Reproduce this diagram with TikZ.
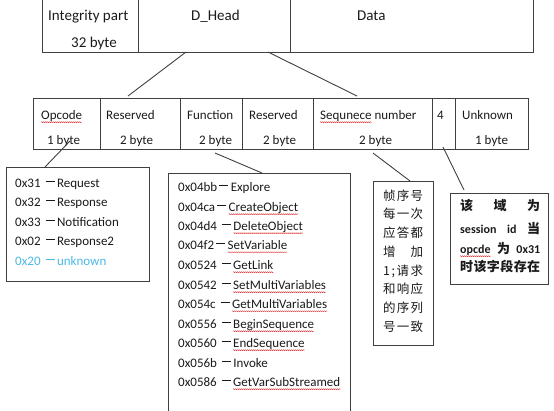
\documentclass[tikz,border=0pt]{standalone}
\usepackage{fontspec}
\setmainfont{Carlito}
\newfontfamily\cjk{Noto Sans CJK SC}
\usepackage{xcolor}
\usetikzlibrary{decorations.pathmorphing}
\definecolor{lc}{HTML}{404040}
\definecolor{txt}{HTML}{1A1A1A}
\definecolor{unk}{HTML}{4BB8E6}
\definecolor{wav}{HTML}{E03030}
\newsavebox\rwbox
\newcommand\rw[1]{\sbox\rwbox{#1}\rlap{\usebox\rwbox}\tikz[baseline=0pt]{\useasboundingbox (0pt,0pt) rectangle (\wd\rwbox,0pt);\draw[wav, line width=0.4pt, decorate, decoration={zigzag, amplitude=0.5pt, segment length=2pt}] (0pt,-3.2pt) -- (\wd\rwbox,-3.2pt);}}
\newcommand\dsh{\hspace{2pt}\raisebox{5.5pt}{\rule{9pt}{0.7pt}}\hspace{2.5pt}}
\tikzset{
  cell/.style={draw=lc, line width=0.9pt, anchor=north west, inner sep=0pt},
  frame/.style={anchor=north west, inner sep=0pt},
  lbl/.style={anchor=base west, inner sep=0pt, text=txt, font=\fontsize{13}{15}\selectfont},
  big/.style={anchor=base west, inner sep=0pt, text=txt, font=\fontsize{15}{17}\selectfont},
  zh/.style={anchor=base west, inner sep=0pt, text=txt, font=\cjk\fontsize{12.5}{14}\selectfont},
  zhb/.style={anchor=base west, inner sep=0pt, text=txt, font=\cjk\bfseries\fontsize{13}{15}\selectfont},
  conn/.style={draw=lc, line width=0.9pt},
}
\begin{document}
\begin{tikzpicture}[x=1pt,y=-1pt]
\useasboundingbox (0,0) rectangle (554,410);
\clip (0,0) rectangle (554,410);
% ---------- top row ----------
\node[frame, minimum width=96pt, minimum height=52pt] (integ) at (42,0) {};
\node[frame, minimum width=152pt, minimum height=52pt] (dhead) at (138,0) {};
\node[frame, minimum width=243pt, minimum height=52pt] (data) at (290,0) {};
\draw[lc, line width=0.9pt] (integ.north west) -- (integ.south west) -- (data.south east) -- (data.north east);
\draw[lc, line width=0.9pt] (dhead.north west) -- (dhead.south west);
\draw[lc, line width=0.9pt] (data.north west) -- (data.south west);
\node[big] (t1) at (48,20) {Integrity part};
\node[big] (t2) at (71,47) {32 byte};
\node[big] (t3) at (191,20) {D\_Head};
\node[big] (t4) at (357,20) {Data};
% ---------- second row ----------
\node[cell, minimum width=67pt, minimum height=51pt] (opc) at (33,98) {};
\node[cell, minimum width=80pt, minimum height=51pt] (res1) at (100,98) {};
\node[cell, minimum width=62pt, minimum height=51pt] (fun) at (180,98) {};
\node[cell, minimum width=71pt, minimum height=51pt] (res2) at (242,98) {};
\node[cell, minimum width=119pt, minimum height=51pt] (seq) at (313,98) {};
\node[cell, minimum width=23pt, minimum height=51pt] (four) at (432,98) {};
\node[cell, minimum width=73pt, minimum height=51pt] (unkc) at (455,98) {};
\node[lbl] (a1) at (41,119) {\rw{Opcode}};
\node[lbl] (a2) at (47,144) {1 byte};
\node[lbl] (b1) at (106,119) {Reserved};
\node[lbl] (b2) at (120,144) {2 byte};
\node[lbl] (c1) at (187,119) {Function};
\node[lbl] (c2) at (199,144) {2 byte};
\node[lbl] (d1) at (249,119) {Reserved};
\node[lbl] (d2) at (263,144) {2 byte};
\node[lbl] (e1) at (320,119) {\rw{Sequnece} number};
\node[lbl] (e2) at (359,144) {2 byte};
\node[lbl] (f1) at (437,119) {4};
\node[lbl] (g1) at (462,119) {Unknown};
\node[lbl] (g2) at (475,144) {1 byte};
% ---------- connectors from D_Head ----------
\coordinate (h1) at (186,52);
\coordinate (h2) at (268,52);
\coordinate (r1) at (128,96);
\coordinate (r2) at (357,96);
\draw[conn] (h1) -- (r1);
\draw[conn] (h2) -- (r2);
% ---------- lower boxes ----------
\node[cell, minimum width=143pt, minimum height=114pt] (opbox) at (6,167) {};
\node[cell, minimum width=182pt, minimum height=260pt] (funbox) at (168,173) {};
\node[cell, minimum width=60pt, minimum height=164pt] (zbox1) at (373,181) {};
\node[cell, minimum width=98pt, minimum height=91pt] (zbox2) at (450,193) {};
% opcode values
\node[lbl] (o1) at (15,187) {0x31 \dsh Request};
\node[lbl] (o2) at (15,206) {0x32 \dsh Response};
\node[lbl] (o3) at (15,226) {0x33 \dsh Notification};
\node[lbl] (o4) at (15,245) {0x02 \dsh Response2};
\node[lbl, text=unk] (o5) at (15,265) {0x20 \dsh unknown};
% function values
\node[lbl] (f01) at (178,191) {0x04bb\dsh Explore};
\node[lbl] (f02) at (178,211) {0x04ca\dsh\rw{CreateObject}};
\node[lbl] (f03) at (178,230) {0x04d4 \dsh\rw{DeleteObject}};
\node[lbl] (f04) at (178,249) {0x04f2\dsh\rw{SetVariable}};
\node[lbl] (f05) at (178,269) {0x0524 \dsh\rw{GetLink}};
\node[lbl] (f06) at (178,289) {0x0542 \dsh\rw{SetMultiVariables}};
\node[lbl] (f07) at (178,308) {0x054c \dsh\rw{GetMultiVariables}};
\node[lbl] (f08) at (178,328) {0x0556 \dsh\rw{BeginSequence}};
\node[lbl] (f09) at (178,347) {0x0560 \dsh\rw{EndSequence}};
\node[lbl] (f10) at (178,367) {0x056b \dsh Invoke};
\node[lbl] (f11) at (178,386) {0x0586 \dsh\rw{GetVarSubStreamed}};
% chinese box 1
\node[zh] (z1) at (383,200) {\makebox[40pt][s]{帧\hfill 序\hfill 号}};
\node[zh] (z2) at (383,218.5) {\makebox[40pt][s]{每\hfill 一\hfill 次}};
\node[zh] (z3) at (383,237) {\makebox[40pt][s]{应\hfill 答\hfill 都}};
\node[zh] (z4) at (383,256) {\makebox[40pt][s]{增\hfill 加}};
\node[zh] (z5) at (383,275) {\makebox[40pt][s]{1\hfill ;\hfill 请\hfill 求}};
\node[zh] (z6) at (383,293) {\makebox[40pt][s]{和\hfill 响\hfill 应}};
\node[zh] (z7) at (383,312) {\makebox[40pt][s]{的\hfill 序\hfill 列}};
\node[zh] (z8) at (383,331) {\makebox[40pt][s]{号\hfill 一\hfill 致}};
% chinese box 2
\node[zhb] (y1) at (460,210) {\makebox[80pt][s]{该\hfill 域\hfill 为}};
\node[zhb] (y2) at (460,233) {\makebox[80pt][s]{{\rmfamily\bfseries\fontsize{12}{14}\selectfont session}\hfill{\rmfamily\bfseries\fontsize{12}{14}\selectfont id}\hfill 当}};
\node[zhb] (y3) at (460,253) {\makebox[80pt][s]{{\rmfamily\bfseries\fontsize{12}{14}\selectfont\rw{opcde}}\hfill 为\hfill{\rmfamily\bfseries\fontsize{12}{14}\selectfont 0x31}}};
\node[zhb] (y4) at (460,271) {\makebox[80pt][s]{时\hfill 该\hfill 字\hfill 段\hfill 存\hfill 在}};
% ---------- connectors to lower boxes ----------
\coordinate (p1) at (70,141);
\coordinate (p2) at (215,153);
\coordinate (p3) at (373,153);
\coordinate (p4) at (443,147);
\coordinate (q1) at (45,167);
\coordinate (q2) at (262,173);
\coordinate (q3) at (410,181);
\coordinate (q4) at (464,190);
\draw[conn] (p1) -- (q1);
\draw[conn] (p2) -- (q2);
\draw[conn] (p3) -- (q3);
\draw[conn] (p4) -- (q4);
\end{tikzpicture}
\end{document}
